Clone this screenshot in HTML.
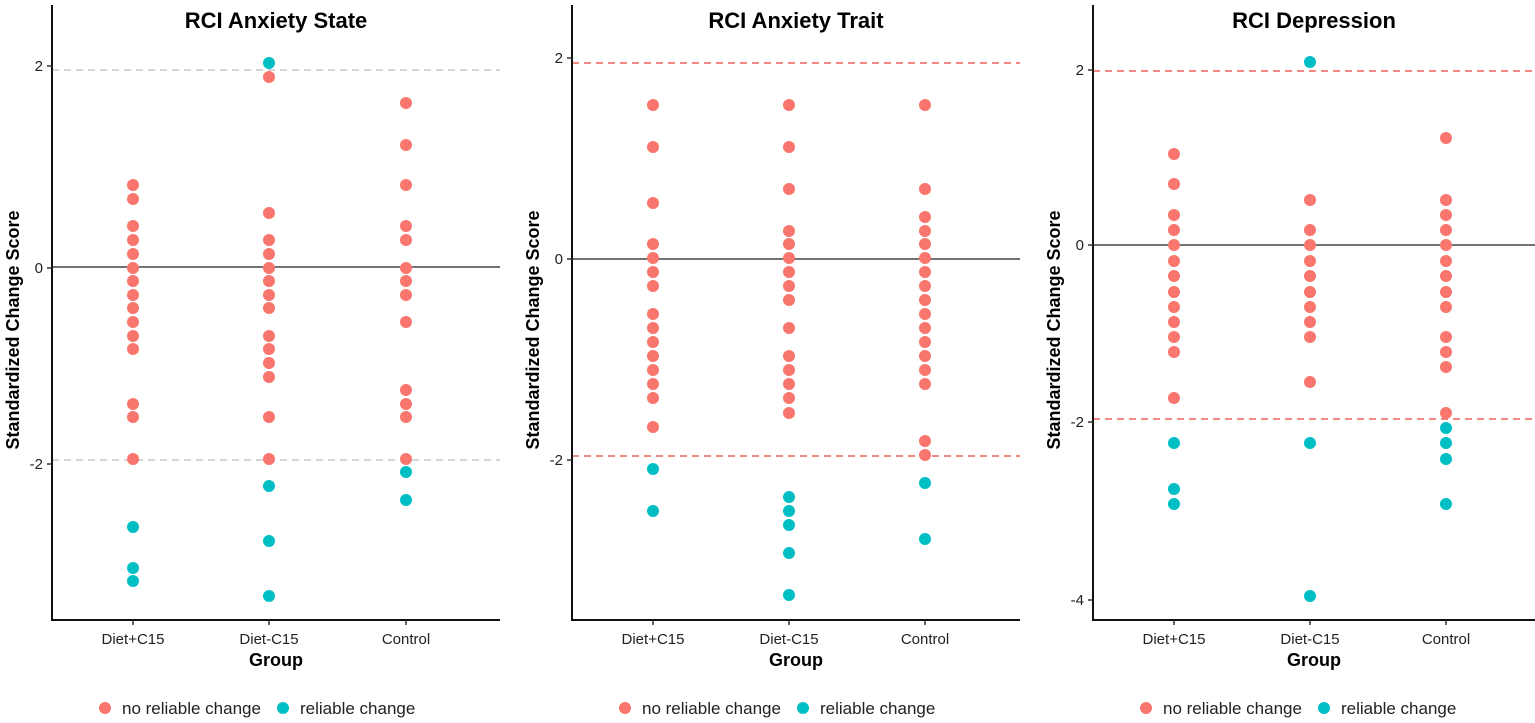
<!DOCTYPE html>
<html><head><style>body{margin:0;background:#fff}svg{display:block}text{font-family:"Liberation Sans",Arial,sans-serif}</style></head>
<body>
<svg id="s" width="1535" height="723" xmlns="http://www.w3.org/2000/svg"></svg>
<script>
const R="#F8766D",T="#00BFC4";
const panels=[
 {ax:52,x1:500,xs:[133,269,406],title:"RCI Anxiety State",dash:[70,460],dc:"#c8c8c8",zero:267,ticks:[[66,"2"],[268,"0"],[464,"-2"]],
  d:[[185,199,226,240,254,268,281,295,308,322,336,349,404,417,459],[527,568,581],
     [77,213,240,254,268,281,295,308,336,349,363,377,417,459],[63,486,541,596],
     [103,145,185,226,240,268,281,295,322,390,404,417,459],[472,500]]},
 {ax:572,x1:1020,xs:[653,789,925],title:"RCI Anxiety Trait",dash:[63,456],dc:"#f06058",zero:259,ticks:[[58,"2"],[259,"0"],[460,"-2"]],
  d:[[105,147,203,244,258,272,286,314,328,342,356,370,384,398,427],[469,511],
     [105,147,189,231,244,258,272,286,300,328,356,370,384,398,413],[497,511,525,553,595],
     [105,189,217,231,244,258,272,286,300,314,328,342,356,370,384,441,455],[483,539]]},
 {ax:1093,x1:1535,xs:[1174,1310,1446],title:"RCI Depression",dash:[71,419],dc:"#f06058",zero:245,ticks:[[70,"2"],[245,"0"],[422,"-2"],[600,"-4"]],
  d:[[154,184,215,230,245,261,276,292,307,322,337,352,398],[443,489,504],
     [200,230,245,261,276,292,307,322,337,382],[62,443,596],
     [138,200,215,230,245,261,276,292,307,337,352,367,413],[428,443,459,504]]}
];
let h="";
const labs=["Diet+C15","Diet-C15","Control"];
for(const p of panels){
 const cx=(p.ax+p.x1)/2;
 h+=`<text x="${cx}" y="28" font-size="22" font-weight="bold" text-anchor="middle">${p.title}</text>`;
 for(const y of p.dash)h+=`<line x1="${p.ax}" x2="${p.x1}" y1="${y}" y2="${y}" stroke="${p.dc}" stroke-width="1.5" stroke-dasharray="7,5"/>`;
 h+=`<line x1="${p.ax}" x2="${p.x1}" y1="${p.zero}" y2="${p.zero}" stroke="#444" stroke-width="1.5"/>`;
 h+=`<line x1="${p.ax}" x2="${p.ax}" y1="5" y2="621" stroke="#111" stroke-width="2"/>`;
 h+=`<line x1="${p.ax-1}" x2="${p.x1}" y1="620" y2="620" stroke="#111" stroke-width="2"/>`;
 for(const [y,l] of p.ticks){h+=`<line x1="${p.ax-5}" x2="${p.ax}" y1="${y}" y2="${y}" stroke="#333" stroke-width="1.5"/><text x="${p.ax-9}" y="${y+5}" font-size="15" text-anchor="end" fill="#222">${l}</text>`;}
 p.xs.forEach((x,i)=>{h+=`<line x1="${x}" x2="${x}" y1="620" y2="625" stroke="#333" stroke-width="1.5"/><text x="${x}" y="644" font-size="15" text-anchor="middle" fill="#222">${labs[i]}</text>`;
  for(const y of p.d[2*i])h+=`<circle cx="${x}" cy="${y}" r="6" fill="${R}"/>`;
  for(const y of p.d[2*i+1])h+=`<circle cx="${x}" cy="${y}" r="6" fill="${T}"/>`;});
 h+=`<text x="${cx}" y="666" font-size="18" font-weight="bold" text-anchor="middle">Group</text>`;
 h+=`<text transform="translate(${p.ax-33},330) rotate(-90)" font-size="18" font-weight="bold" text-anchor="middle">Standardized Change Score</text>`;
 const lx=p.ax+53;
 h+=`<circle cx="${lx}" cy="708" r="6" fill="${R}"/><text x="${lx+17}" y="714" font-size="17" fill="#222">no reliable change</text>`;
 h+=`<circle cx="${lx+178}" cy="708" r="6" fill="${T}"/><text x="${lx+195}" y="714" font-size="17" fill="#222">reliable change</text>`;
}
document.getElementById("s").innerHTML=h;
</script>
</body></html>
